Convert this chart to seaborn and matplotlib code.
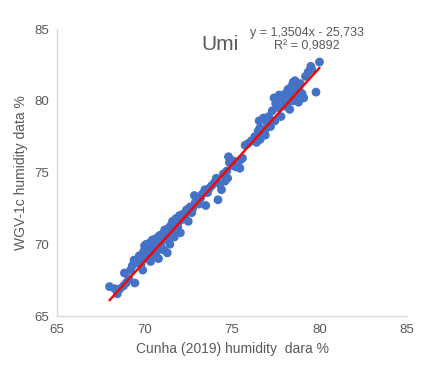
import numpy as np
import pandas as pd
import matplotlib
matplotlib.use("Agg")
import matplotlib.pyplot as plt
import seaborn as sns

# values
cunha = [68.0, 68.3, 68.45, 68.6, 68.8, 68.85, 68.95, 69.1, 69.2, 69.3, 69.45, 69.5, 69.6,
         69.7, 69.8, 69.9, 69.95, 70.05, 70.1, 70.2, 70.25, 70.3, 70.35, 70.4, 70.45, 70.5,
         70.55, 70.6, 70.65, 70.7, 70.75, 70.8, 70.85, 70.9, 70.95, 71.0, 71.05, 71.1, 71.15,
         71.2, 71.25, 71.3, 71.35, 71.4, 71.45, 71.5, 71.55, 71.6, 71.65, 71.7, 71.75, 71.8,
         71.85, 71.9, 72.0, 72.05, 72.1, 72.2, 72.3, 72.4, 72.5, 72.55, 72.6, 72.75, 72.85,
         72.9, 73.0, 73.1, 73.2, 73.3, 73.45, 73.5, 73.6, 73.7, 73.85, 74.0, 74.1, 74.2,
         74.3, 74.4, 74.5, 74.6, 74.7, 74.75, 74.8, 74.85, 74.9, 75.0, 75.1, 75.2, 75.3,
         75.45, 75.5, 75.6, 75.75, 75.9, 76.1, 76.3, 76.4, 76.5, 76.55, 76.6, 76.7, 76.8,
         76.9, 77.0, 77.1, 77.2, 77.3, 77.4, 77.45, 77.5, 77.6, 77.7, 77.8, 77.9, 78.0,
         78.05, 78.1, 78.2, 78.25, 78.3, 78.4, 78.45, 78.5, 78.6, 78.65, 78.7, 78.8, 78.85,
         78.9, 79.0, 79.1, 79.2, 79.35, 79.5, 79.55, 80.0, 79.8, 76.6, 76.9, 70.0, 70.6,
         71.3, 71.9, 72.3, 78.3, 78.75, 69.4, 70.15, 70.8, 71.5, 72.7, 77.7, 78.5]
wgv = [67.05, 66.9, 66.55, 66.9, 67.1, 68.0, 67.3, 67.6, 68.2, 68.5, 67.3, 68.7, 68.9,
       69.2, 68.6, 68.2, 69.5, 69.0, 70.0, 69.4, 69.8, 70.1, 68.8, 69.6, 70.3, 69.2,
       70.0, 69.7, 70.4, 69.5, 70.2, 69.0, 70.6, 70.0, 69.8, 70.7, 70.3, 69.6, 71.0,
       70.4, 70.8, 69.4, 71.1, 70.5, 70.0, 71.3, 70.9, 71.6, 71.0, 70.5, 71.4, 71.8,
       70.9, 71.5, 72.0, 70.8, 71.7, 72.1, 71.9, 72.4, 71.6, 72.3, 72.6, 72.5, 73.4,
       72.9, 73.1, 72.8, 73.2, 73.5, 73.8, 72.7, 73.6, 73.9, 74.1, 74.3, 74.6, 73.1,
       74.2, 73.8, 74.9, 74.4, 75.1, 74.6, 76.1, 75.7, 75.9, 75.5, 75.8, 75.4, 75.6,
       75.3, 75.9, 76.0, 76.9, 77.0, 77.2, 77.5, 77.1, 77.9, 78.6, 78.1, 77.6, 78.8,
       78.0, 78.5, 78.9, 78.2, 79.3, 80.2, 78.6, 79.8, 80.1, 79.5, 78.9, 80.3, 79.8,
       80.5, 79.6, 80.8, 80.2, 79.4, 81.0, 80.6, 80.0, 81.4, 80.4, 81.1, 79.9, 80.7,
       81.2, 80.5, 80.2, 81.7, 82.0, 82.4, 82.2, 82.7, 80.6, 77.3, 77.6, 69.9, 70.2,
       70.9, 71.2, 72.0, 80.0, 80.9, 68.9, 69.7, 70.4, 71.0, 72.2, 80.4, 81.3]
slope = 1.3504
intercept = -25.733

df = pd.DataFrame({"cunha": cunha, "wgv": wgv})

sns.set_style("white")
plt.rcParams["font.family"] = ["Liberation Sans", "DejaVu Sans"]
grey = "#595959"

fig = plt.figure(figsize=(4.30, 3.72), dpi=100)
ax = fig.add_axes([0.1326, 0.1505, 0.8139, 0.7715])

sns.scatterplot(data=df, x="cunha", y="wgv", color="#4472C4", s=40,
                edgecolor="none", ax=ax, zorder=2)

# trend line over the data range
x_line = np.array([min(cunha), max(cunha)])
sns.lineplot(x=x_line, y=slope * x_line + intercept, color="#FF0000",
             linewidth=1.7, ax=ax, zorder=3)

ax.set_xlim(65, 85)
ax.set_ylim(65, 85)
ax.set_xticks([65, 70, 75, 80, 85])
ax.set_yticks([65, 70, 75, 80, 85])
ax.tick_params(length=0, labelsize=9.5, colors=grey, pad=6)

for side in ["top", "right"]:
    ax.spines[side].set_visible(False)
for side in ["left", "bottom"]:
    ax.spines[side].set_color("#D9D9D9")
    ax.spines[side].set_linewidth(1)

ax.set_xlabel("Cunha (2019) humidity  dara %", fontsize=10, color=grey, labelpad=4)
ax.set_ylabel("WGV-1c humidity data %", fontsize=10, color=grey, labelpad=4)

ax.text(74.3, 83.95, "Umi", fontsize=15, color=grey, ha="center", va="center")
ax.text(79.3, 84.75, "y = 1,3504x - 25,733", fontsize=9, color=grey,
        ha="center", va="center")
ax.text(79.3, 83.8, "R\u00b2 = 0,9892", fontsize=9, color=grey,
        ha="center", va="center")

fig.savefig("out.png", dpi=100)
